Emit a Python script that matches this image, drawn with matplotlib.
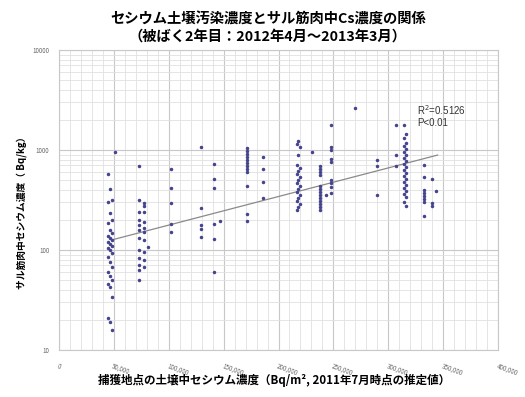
import matplotlib
matplotlib.use("Agg")
import matplotlib.pyplot as plt
from matplotlib.ticker import FixedLocator, LogLocator, NullFormatter

# ---- data ----
soil_x = (
    [51000] +
    [45000, 46500, 48000, 45000, 46500, 48000, 45000, 46500, 48000, 45000,
     46500, 48000, 45000, 46500, 48000, 45000, 46500, 48000, 45000, 46500,
     48000, 45000, 46500, 48000, 45000, 46500, 48000, 45000, 46500, 48000] +
    [72700, 72700, 77300, 77300, 72700, 77300, 72700, 77300, 72700, 77300,
     72700, 77300, 72700, 77300, 81000, 72700, 77300, 72700, 77300, 72700,
     77300, 72700, 72700] +
    [101800] * 5 +
    [129000] * 5 +
    [140900] * 6 + [146400] +
    [170900] * 12 +
    [185500] * 4 +
    [218000, 216500, 219500, 218000, 216500, 219500, 218000, 216500, 219500, 218000,
     216500, 219500, 218000, 216500, 219500, 218000, 216500, 219500, 218000, 216500] +
    [230900] +
    [238000] * 13 + [243600] + [248000] * 9 +
    [270000] +
    [290000] * 3 +
    [307000] * 3 +
    [314000, 316000] * 12 +
    [332700] * 8 + [340000] * 3 + [343600]
)
monkey_cs = (
    [955] +
    [575, 407, 316, 302, 234, 200, 186, 158, 148, 138,
     132, 126, 120, 115, 110, 105, 100, 93, 85, 76,
     68, 60, 55, 50, 46, 43, 34, 21, 19, 16] +
    [692, 316, 295, 275, 240, 240, 200, 191, 178, 166,
     158, 151, 132, 126, 107, 100, 95, 83, 79, 71,
     68, 63, 50] +
    [646, 417, 295, 182, 151] +
    [1072, 263, 178, 162, 135] +
    [724, 513, 417, 182, 129, 60, 195] +
    [1047, 977, 912, 851, 794, 741, 692, 646, 603, 437, 229, 195] +
    [851, 646, 479, 331] +
    [1230, 1148, 1072, 891, 708, 661, 617, 575, 537, 501,
     468, 437, 407, 380, 355, 331, 309, 288, 269, 251] +
    [955] +
    [692, 646, 603, 562, 437, 407, 380, 355, 331, 309, 288, 269, 251] +
    [355] +
    [1778, 1072, 1000, 813, 759, 501, 468, 427, 372] +
    [2630] +
    [794, 692, 355] +
    [1778, 891, 692] +
    [1778, 1445, 1318, 1175, 1096, 1023, 955, 891, 832, 776, 724, 676,
     631, 589, 550, 513, 479, 447, 417, 389, 363, 339, 302, 275] +
    [708, 537, 398, 372, 347, 324, 302, 219] +
    [513, 295, 275] +
    [389]
)
trend_x = [48000, 345000]
trend_y = [126, 890]

x_ticks = [0, 50000, 100000, 150000, 200000, 250000, 300000, 350000, 400000]
x_tick_labels = ["0", "50,000", "100,000", "150,000", "200,000", "250,000",
                 "300,000", "350,000", "400,000"]
y_ticks = [10, 100, 1000, 10000]
y_tick_labels = ["10", "100", "1000", "10000"]

title = "セシウム土壌汚染濃度とサル筋肉中Cs濃度の関係\n（被ばく2年目：2012年4月～2013年3月）"
xlabel = "捕獲地点の土壌中セシウム濃度（Bq/m², 2011年7月時点の推定値）"
ylabel = "サル筋肉中セシウム濃度（ Bq/kg）"
r2_text = "R$^2$=0.5126"
p_text = "P<0.01"

# ---- figure ----
plt.rcParams['font.family'] = ['Noto Sans CJK JP', 'DejaVu Sans']
fig = plt.figure(figsize=(5.25, 3.97), dpi=100)
ax = fig.add_axes([59 / 525, 1 - 350 / 397, 439 / 525, 300 / 397])

ax.set_yscale('log')
ax.set_xlim(0, 400000)
ax.set_ylim(10, 10000)

ax.xaxis.set_major_locator(FixedLocator(x_ticks))
ax.xaxis.set_minor_locator(FixedLocator(list(range(0, 400001, 10000))))
ax.yaxis.set_major_locator(FixedLocator(y_ticks))
ax.yaxis.set_minor_locator(LogLocator(base=10, subs=range(2, 10)))
ax.yaxis.set_minor_formatter(NullFormatter())
ax.set_yticklabels(y_tick_labels)
ax.set_xticklabels(x_tick_labels)

ax.grid(which='major', color='#c8c8c8', linewidth=0.8)
ax.grid(which='minor', color='#e0e0e0', linewidth=0.6)
ax.set_axisbelow(True)
for s in ax.spines.values():
    s.set_color('#c8c8c8')
    s.set_linewidth(0.8)

ax.tick_params(which='both', length=0)
ax.tick_params(axis='y', labelsize=4.5, labelcolor='#666666', pad=7)
ax.tick_params(axis='x', labelsize=4.5, labelcolor='#666666', pad=9)
for lab in ax.get_xticklabels():
    lab.set_rotation(-20)
    lab.set_ha('left')
    lab.set_va('top')
    lab.set_rotation_mode('anchor')

ax.plot(trend_x, trend_y, color='#8a8a8a', linewidth=0.9, zorder=2)
ax.plot(soil_x, monkey_cs, linestyle='none', marker='o', markersize=1.5,
        color='#45458f', zorder=3)

ax.text(0.815, 0.80, r2_text, transform=ax.transAxes, fontsize=7,
        family=['Liberation Sans', 'DejaVu Sans'], color='#333333',
        ha='left', va='center')
ax.text(0.815, 0.755, p_text, transform=ax.transAxes, fontsize=7,
        family=['Liberation Sans', 'DejaVu Sans'], color='#333333',
        ha='left', va='center')

fig.text(0.51, 1 - 28 / 397, title, ha='center', va='center', fontsize=10.3,
         fontweight='bold', linespacing=1.2)
fig.text(274 / 525, 1 - 380 / 397, xlabel, ha='center', va='center',
         fontsize=8.3, fontweight='bold')
fig.text(22 / 525, 1 - 210 / 397, ylabel, ha='center', va='center',
         fontsize=7, fontweight='bold', rotation=90)

fig.savefig('out.png', dpi=100)
